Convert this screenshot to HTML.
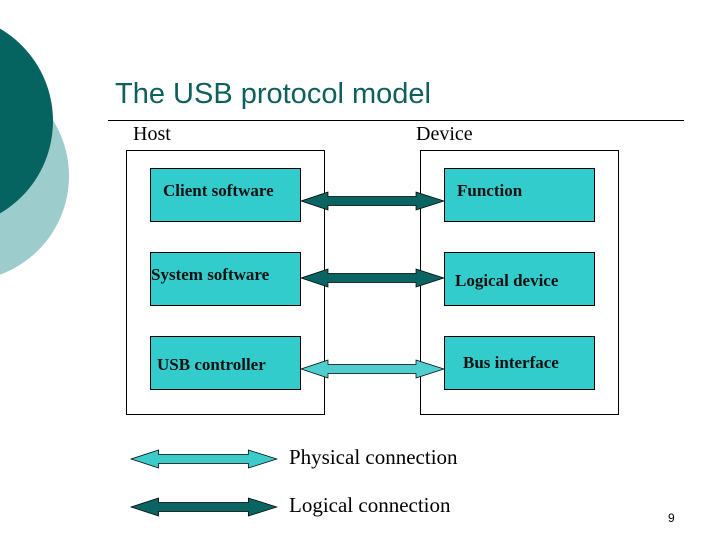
<!DOCTYPE html>
<html><head><meta charset="utf-8"><style>
html,body{margin:0;padding:0;background:#fff;}
svg{display:block;}
</style></head><body>
<svg width="720" height="540" viewBox="0 0 720 540" xmlns="http://www.w3.org/2000/svg">
<rect width="720" height="540" fill="#fff"/>
<circle cx="-36" cy="176" r="105" fill="#9ccccc"/>
<circle cx="-54" cy="121" r="107" fill="#05645f"/>
<text x="115" y="103" font-family="Liberation Sans, sans-serif" font-size="29" fill="#0f5f5f">The USB protocol model</text>
<line x1="108" y1="120.5" x2="684" y2="120.5" stroke="#000" stroke-width="1"/>
<g font-family="Liberation Serif, serif" fill="#000">
<text x="133" y="140" font-size="20">Host</text>
<text x="416" y="140" font-size="20">Device</text>
</g>
<rect x="126.5" y="150.5" width="198" height="264" fill="#fff" stroke="#000"/>
<rect x="420.5" y="150.5" width="198" height="264" fill="#fff" stroke="#000"/>
<g fill="#33cccc" stroke="#000" stroke-width="1">
<rect x="150.5" y="168.5" width="150" height="53"/>
<rect x="150.5" y="252.5" width="150" height="53"/>
<rect x="150.5" y="336.5" width="150" height="53"/>
<rect x="444.5" y="168.5" width="150" height="53"/>
<rect x="444.5" y="252.5" width="150" height="53"/>
<rect x="444.5" y="336.5" width="150" height="53"/>
</g>
<g font-family="Liberation Serif, serif" font-size="17" font-weight="bold" fill="#111">
<text x="163" y="196">Client software</text>
<text x="151" y="280">System software</text>
<text x="157" y="370">USB controller</text>
<text x="457" y="196">Function</text>
<text x="455" y="286">Logical device</text>
<text x="463" y="368">Bus interface</text>
</g>
<defs>
<path id="arr" d="M0,0 L27,-9 L27,-4.5 L115,-4.5 L115,-9 L143,0 L115,9 L115,4.5 L27,4.5 L27,9 Z"/>
</defs>
<use href="#arr" x="301" y="201" fill="#0a6461" stroke="#000" stroke-width="0.7"/>
<use href="#arr" x="301" y="278" fill="#0a6461" stroke="#000" stroke-width="0.7"/>
<use href="#arr" x="301" y="369" fill="#4dcfcf" stroke="#000" stroke-width="0.7"/>
<use href="#arr" x="131" y="459" fill="#3ccaca" stroke="#000" stroke-width="0.7" transform="translate(-2.6,0) scale(1.02,1)"/>
<use href="#arr" x="131" y="507" fill="#0a6461" stroke="#000" stroke-width="0.7" transform="translate(-2.6,0) scale(1.02,1)"/>
<g font-family="Liberation Serif, serif" font-size="21" fill="#000">
<text x="289" y="464">Physical connection</text>
<text x="289" y="512">Logical connection</text>
</g>
<text x="668" y="522" font-family="Liberation Sans, sans-serif" font-size="12" fill="#000">9</text>
</svg>
</body></html>
